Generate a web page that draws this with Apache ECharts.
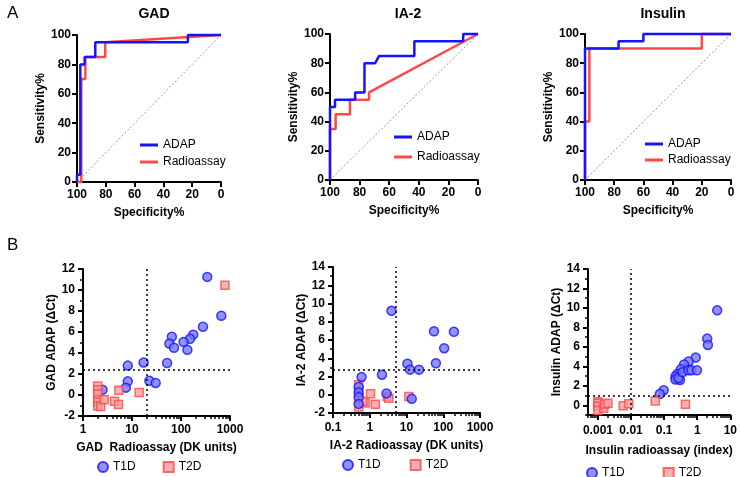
<!DOCTYPE html>
<html>
<head>
<meta charset="utf-8">
<script src="https://cdn.jsdelivr.net/npm/echarts@6/dist/echarts.min.js"></script>
<style>
  html, body { margin: 0; padding: 0; background: #fff; }
  #chart { width: 740px; height: 477px; }
</style>
</head>
<body>
<div id="chart"></div>
<script>
// ROC curves, [specificity %, sensitivity %]
const gadAdap = [[100, 0], [100, 5], [97.7, 5], [97.7, 80], [94.7, 80], [94.7, 85], [87.3, 85], [87.3, 95], [23, 95], [23, 100], [0, 100]]
const gadRadio = [[100, 0], [97, 0], [97, 70], [94.2, 70], [94.2, 85], [80.4, 85], [80.4, 95], [0, 100]]
const ia2Adap = [[100, 0], [100, 50], [96.6, 50], [96.6, 55], [83, 55], [83, 60], [76.7, 60], [76.7, 80], [69.5, 80], [66.8, 85], [43, 85], [43, 95], [10, 95], [10, 100], [0, 100]]
const ia2Radio = [[100, 0], [100, 35], [96.2, 35], [96.2, 45], [86.5, 45], [86.5, 55], [73.6, 55], [73.6, 60], [0, 100]]
const insAdap = [[100, 0], [100, 90], [77, 90], [77, 95], [60, 95], [60, 100], [0, 100]]
const insRadio = [[100, 0], [100, 40], [97, 40], [97, 90], [20, 90], [20, 100], [0, 100]]
const chanceLine = [[100, 0], [0, 100]]

// scatter, [radioassay, ADAP dCt]
const gadT1D = [[344, 11.25], [665, 7.55], [281, 6.5], [178, 5.75], [153, 5.35], [113, 5.05], [135, 4.3], [65, 5.55], [58, 4.9], [72, 4.5], [52, 3.05], [17.3, 3.1], [8.2, 2.8], [22.6, 1.35], [30.4, 1.15], [8.2, 1.3], [7.5, 0.7], [2.5, 0.5]]
const gadT2D = [[2, 0.85], [2, 0.5], [2, 0.1], [2, -0.45], [2, -0.7], [2, -1.05], [2.3, -1.1], [2.7, -0.45], [4.4, -0.6], [5.3, -0.9], [5.4, 0.45], [14, 0.25], [790, 10.45]]
const ia2T1D = [[3.9, 9.2], [56, 6.95], [195, 6.9], [106, 5.1], [63, 3.45], [10.6, 3.4], [12.5, 2.75], [22, 2.75], [2.15, 2.2], [0.6, 1.95], [2.85, 0.15], [13.9, -0.45], [0.5, 0.85], [0.5, 0.25], [0.5, -0.25], [0.5, -1.0]]
const ia2T2D = [[0.5, 1.1], [0.5, 0.4], [0.5, -0.5], [0.5, -1.35], [1.05, 0.12], [0.75, -0.9], [0.65, -0.7], [1.42, -1.05], [3.0, -0.2], [3.3, -0.38], [11.6, -0.2]]
const insT1D = [[4.0, 9.75], [2.0, 6.85], [2.1, 6.2], [0.9, 4.9], [0.55, 4.5], [0.4, 4.2], [0.32, 3.7], [0.25, 3.2], [0.22, 2.95], [0.22, 2.65], [0.3, 2.6], [0.27, 2.8], [0.36, 3.4], [0.54, 3.6], [0.67, 3.6], [0.98, 3.6], [0.097, 1.55], [0.074, 1.15]]
const insT2D = [[0.001, 0.35], [0.001, 0.2], [0.001, -0.1], [0.001, -0.55], [0.0015, -0.3], [0.0016, 0.1], [0.002, 0.2], [0.0058, -0.05], [0.0085, 0.15], [0.054, 0.45], [0.44, 0.1]]

// cutoffs [x, y]
const gadCut = [20, 2.4]
const ia2Cut = [5, 2.7]
const insCut = [0.01, 1]

// tick labels
const rocTicks = [0, 20, 40, 60, 80, 100]
const gadXTicks = [1, 10, 100, 1000]
const ia2XTicks = [0.1, 1, 10, 100, 1000]
const insXTicks = [0.001, 0.01, 0.1, 1, 10]
const gadYTicks = [-2, 0, 2, 4, 6, 8, 10, 12]
const ia2YTicks = [-2, 0, 2, 4, 6, 8, 10, 12, 14]
const insYTicks = [0, 2, 4, 6, 8, 10, 12, 14]

const FONT = '"Liberation Sans", Arial, sans-serif'
const BLUE = '#1414ff'
const RED = '#ff4848'

const chart = echarts.init(document.getElementById('chart'))

const rocGrids = [
  { left: 77, top: 35, width: 144, height: 147 },
  { left: 330, top: 34, width: 148, height: 146 },
  { left: 585, top: 34, width: 146, height: 146 },
]
const dotGrids = [
  { left: 83, top: 269, width: 147, height: 147 },
  { left: 333, top: 267, width: 147, height: 146 },
  { left: 588, top: 269, width: 146, height: 146 },
]

function axis(opts) {
  return {
    nameLocation: 'middle',
    nameTextStyle: { color: '#000', fontWeight: 'bold', fontSize: 12, fontFamily: FONT },
    axisLine: { show: true, onZero: false, lineStyle: { color: '#000', width: 2 } },
    axisTick: { show: true, length: 5, lineStyle: { color: '#000', width: 2 }, customValues: opts.ticks },
    axisLabel: {
      color: '#000', fontWeight: 'bold', fontSize: 12, fontFamily: FONT,
      margin: opts.margin, customValues: opts.ticks,
      formatter: (v) => String(+Number(v).toPrecision(4)),
    },
    splitLine: { show: false },
    ...opts.base,
  }
}

function minorAxis(base, values) {
  return {
    ...base,
    axisLine: { show: false, onZero: false },
    axisLabel: { show: false },
    splitLine: { show: false },
    axisTick: { show: true, length: 3, lineStyle: { color: '#000', width: 1.5 }, customValues: values },
  }
}

function logMinor(lo, hi) {
  const out = []
  for (let d = lo; d < hi; d *= 10) {
    for (let k = 2; k <= 9; k++) out.push(+(d * k).toPrecision(3))
  }
  return out
}

const xAxis = [
  ...rocGrids.map((g, i) => axis({
    ticks: rocTicks, margin: 7,
    base: { type: 'value', gridIndex: i, min: 0, max: 100, inverse: true, name: 'Specificity%', nameGap: 25 },
  })),
  axis({ ticks: gadXTicks, margin: 8, base: { type: 'log', gridIndex: 3, min: 1, max: 1000, name: 'GAD  Radioassay (DK units)', nameGap: 26 } }),
  axis({ ticks: ia2XTicks, margin: 9, base: { type: 'log', gridIndex: 4, min: 0.1, max: 1000, name: 'IA-2 Radioassay (DK units)', nameGap: 27 } }),
  axis({ ticks: insXTicks, margin: 10, base: { type: 'log', gridIndex: 5, min: 0.0005, max: 10, name: 'Insulin radioassay (index)', nameGap: 30 } }),
  minorAxis({ type: 'log', gridIndex: 3, min: 1, max: 1000, position: 'bottom' }, logMinor(1, 1000)),
  minorAxis({ type: 'log', gridIndex: 4, min: 0.1, max: 1000, position: 'bottom' }, logMinor(0.1, 1000)),
  minorAxis({ type: 'log', gridIndex: 5, min: 0.0005, max: 10, position: 'bottom' }, [0.0005, ...logMinor(0.0001, 10)].filter((v) => v >= 0.0005)),
]

const yAxis = [
  ...rocGrids.map((g, i) => axis({
    ticks: rocTicks, margin: 6,
    base: { type: 'value', gridIndex: i, min: 0, max: 100, name: 'Sensitivity%', nameGap: 30 },
  })),
  axis({ ticks: gadYTicks, margin: 8, base: { type: 'value', gridIndex: 3, min: -2, max: 12, name: 'GAD ADAP (\u0394Ct)', nameGap: 24 } }),
  axis({ ticks: ia2YTicks, margin: 8, base: { type: 'value', gridIndex: 4, min: -2, max: 14, name: 'IA-2 ADAP (\u0394Ct)', nameGap: 24 } }),
  axis({ ticks: insYTicks, margin: 8, base: { type: 'value', gridIndex: 5, min: -1, max: 14, name: 'Insulin ADAP (\u0394Ct)', nameGap: 23 } }),
  minorAxis({ type: 'value', gridIndex: 3, min: -2, max: 12, position: 'left' }, [-1, 1, 3, 5, 7, 9, 11]),
  minorAxis({ type: 'value', gridIndex: 4, min: -2, max: 14, position: 'left' }, [-1, 1, 3, 5, 7, 9, 11, 13]),
  minorAxis({ type: 'value', gridIndex: 5, min: -1, max: 14, position: 'left' }, [-1, 1, 3, 5, 7, 9, 11, 13]),
]

function rocSeries(i, adap, radio) {
  const common = { type: 'line', xAxisIndex: i, yAxisIndex: i, symbol: 'none', clip: false, silent: true, animation: false }
  return [
    { ...common, name: 'chance', data: chanceLine, lineStyle: { color: '#9a9a9a', width: 1, type: [2, 2] } },
    { ...common, name: 'Radioassay', data: radio, color: RED, lineStyle: { color: RED, width: 2.5 } },
    { ...common, name: 'ADAP', data: adap, color: BLUE, lineStyle: { color: BLUE, width: 2.5 } },
  ]
}

function dotSeries(i, t1d, t2d, cut, redOnTop) {
  const common = { type: 'scatter', xAxisIndex: i, yAxisIndex: i, clip: false, silent: true, animation: false }
  const blue = {
    ...common, name: 'T1D', data: t1d, symbol: 'circle', symbolSize: 9, z: redOnTop ? 2 : 3,
    itemStyle: { color: '#7878ff', borderColor: BLUE, borderWidth: 1.5 },
  }
  const red = {
    ...common, name: 'T2D', data: t2d, symbol: 'rect', symbolSize: 8, z: redOnTop ? 3 : 2,
    itemStyle: { color: '#f5a0a0', borderColor: RED, borderWidth: 1.5 },
    markLine: {
      silent: true, symbol: 'none', animation: false,
      label: { show: false },
      lineStyle: { color: '#000', type: [2, 3], width: 1.5 },
      data: [{ xAxis: cut[0] }, { yAxis: cut[1] }],
    },
  }
  return [blue, red]
}

const titleText = { color: '#000', fontWeight: 'bold', fontSize: 14, fontFamily: FONT }
const letterText = { color: '#000', fontWeight: 'normal', fontSize: 17, fontFamily: FONT }
const legendText = { color: '#000', fontSize: 12, fontFamily: FONT }

function rocLegend(left, top, gap) {
  return { data: ['ADAP', 'Radioassay'], orient: 'vertical', left, top, padding: 0, itemGap: gap, icon: 'rect', itemWidth: 18, itemHeight: 3, selectedMode: false, textStyle: legendText }
}
function dotLegend(left, top, gap) {
  return { data: ['T1D', 'T2D'], orient: 'horizontal', left, top, padding: 0, itemGap: gap, itemWidth: 10, itemHeight: 10, selectedMode: false, textStyle: legendText }
}

chart.setOption({
  animation: false,
  title: [
    { text: 'A', left: 2, top: 0, textStyle: letterText },
    { text: 'B', left: 2, top: 232, textStyle: letterText },
    { text: 'GAD', left: 149, top: 2, textAlign: 'center', textStyle: titleText },
    { text: 'IA-2', left: 403, top: 2, textAlign: 'center', textStyle: titleText },
    { text: 'Insulin', left: 658, top: 2, textAlign: 'center', textStyle: titleText },
  ],
  legend: [
    rocLegend(140, 139, 5),
    rocLegend(394, 131, 8),
    rocLegend(645, 138, 4),
    dotLegend(97, 461, 27),
    dotLegend(342, 459, 29),
    dotLegend(586, 467, 38),
  ],
  grid: [...rocGrids, ...dotGrids],
  xAxis,
  yAxis,
  series: [
    ...rocSeries(0, gadAdap, gadRadio),
    ...rocSeries(1, ia2Adap, ia2Radio),
    ...rocSeries(2, insAdap, insRadio),
    ...dotSeries(3, gadT1D, gadT2D, gadCut, true),
    ...dotSeries(4, ia2T1D, ia2T2D, ia2Cut, false),
    ...dotSeries(5, insT1D, insT2D, insCut, true),
  ],
})
</script>
</body>
</html>
